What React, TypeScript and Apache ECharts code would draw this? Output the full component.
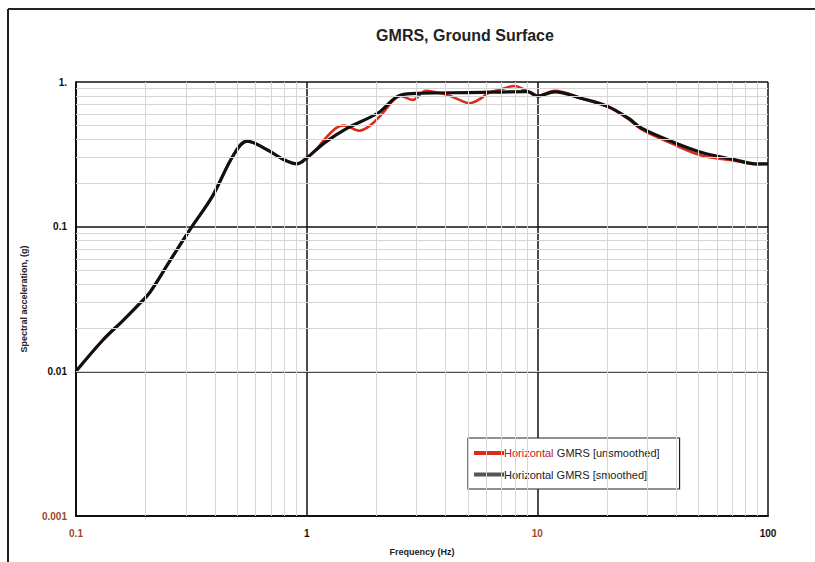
import React, { useEffect, useRef } from "react";
import * as echarts from "echarts";

const smoothFreq = [0.1, 0.1315, 0.1606, 0.19, 0.21, 0.256, 0.318, 0.39, 0.483, 0.552, 0.674, 0.797, 0.91, 1.0, 1.19, 1.5, 2.03, 2.56, 3.13, 5.0, 9.12, 10, 11.9, 15.5, 20.3, 24.8, 28.3, 38.3, 51.6, 72.1, 88.1, 100];
const smoothAcc = [0.01, 0.0166, 0.0226, 0.0297, 0.0355, 0.0585, 0.1, 0.162, 0.315, 0.39, 0.34, 0.29, 0.272, 0.298, 0.378, 0.48, 0.608, 0.813, 0.836, 0.845, 0.857, 0.8, 0.855, 0.772, 0.676, 0.562, 0.48, 0.388, 0.326, 0.29, 0.272, 0.272];

const rawFreq = [0.1, 0.1315, 0.1606, 0.19, 0.21, 0.256, 0.318, 0.39, 0.483, 0.552, 0.674, 0.797, 0.91, 1.0, 1.1, 1.19, 1.34, 1.45, 1.69, 1.9, 2.1, 2.56, 2.88, 3.29, 3.7, 4.09, 4.59, 5.08, 5.71, 6.1, 6.97, 7.96, 9.12, 10, 11.9, 15.5, 20.3, 24.8, 28.3, 38.3, 51.6, 72.1, 88.1, 100];
const rawAcc = [0.01, 0.0166, 0.0226, 0.0297, 0.0355, 0.0585, 0.1, 0.162, 0.315, 0.39, 0.34, 0.29, 0.272, 0.298, 0.34, 0.398, 0.48, 0.5, 0.46, 0.505, 0.59, 0.8, 0.752, 0.871, 0.844, 0.813, 0.752, 0.713, 0.772, 0.836, 0.89, 0.938, 0.857, 0.8, 0.87, 0.77, 0.67, 0.555, 0.47, 0.375, 0.31, 0.285, 0.27, 0.272];

const xMinorGrid = [0.2, 0.3, 0.4, 0.5, 0.6, 0.7, 0.8, 0.9, 2, 3, 4, 5, 6, 7, 8, 9, 20, 30, 40, 50, 60, 70, 80, 90];
const yMinorGrid = [0.002, 0.003, 0.004, 0.005, 0.006, 0.007, 0.008, 0.009, 0.02, 0.03, 0.04, 0.05, 0.06, 0.07, 0.08, 0.09, 0.2, 0.3, 0.4, 0.5, 0.6, 0.7, 0.8, 0.9];

const xTickLabels: Record<string, string> = { "0.1": "{b|0.1}", "1": "{k|1}", "10": "{b|10}", "100": "{k|100}" };
const yTickLabels: Record<string, string> = { "1": "{k|1.}", "0.1": "{k|0.1}", "0.01": "{k|0.01}", "0.001": "{b|0.001}" };

const seriesNames = ["Horizontal GMRS [unsmoothed]", "Horizontal GMRS [smoothed]"];

const FONT = "Liberation Sans, Arial, sans-serif";
const BROWN = "#9a4a2a";

function keyOf(v: number): string {
  const r = Math.round(Math.log10(v));
  return String(Math.pow(10, r) >= 1 ? Math.pow(10, r) : Number(Math.pow(10, r).toFixed(-r)));
}

export default function App() {
  const ref = useRef<HTMLDivElement>(null);
  useEffect(() => {
    const chart = echarts.init(ref.current!, undefined, { renderer: "svg" });
    const rich = {
      k: { color: "#111", fontSize: 10, fontWeight: "bold", fontFamily: FONT },
      b: { color: BROWN, fontSize: 10, fontWeight: "bold", fontFamily: FONT },
    };
    chart.setOption({
      animation: false,
      backgroundColor: "#ffffff",
      grid: { left: 76, right: 47, top: 82, bottom: 46 },
      graphic: [
        { type: "line", shape: { x1: 8, y1: 9, x2: 815, y2: 9 }, style: { stroke: "#222", lineWidth: 2 } },
        { type: "line", shape: { x1: 8, y1: 9, x2: 8, y2: 562 }, style: { stroke: "#222", lineWidth: 2 } },
        {
          type: "text",
          x: 465,
          y: 35,
          style: {
            text: "GMRS, Ground Surface",
            fill: "#222",
            font: "bold 16px " + FONT,
            textAlign: "center",
            textVerticalAlign: "middle",
          },
        },
      ],
      xAxis: {
        type: "log",
        logBase: 10,
        min: 0.1,
        max: 100,
        name: "Frequency (Hz)",
        nameLocation: "middle",
        nameGap: 31,
        nameTextStyle: { color: "#222", fontSize: 9, fontWeight: "bold", fontFamily: FONT },
        axisLine: { show: true, lineStyle: { color: "#111", width: 2 } },
        axisTick: { show: false },
        axisLabel: {
          margin: 12,
          formatter: (v: number) => xTickLabels[keyOf(v)] ?? "",
          rich,
        },
        splitLine: { show: true, lineStyle: { color: "#111", width: 1.5 } },
      },
      yAxis: {
        type: "log",
        logBase: 10,
        min: 0.001,
        max: 1,
        name: "Spectral acceleration, (g)",
        nameLocation: "middle",
        nameGap: 48,
        nameRotate: 90,
        nameTextStyle: { color: "#222", fontSize: 9, fontWeight: "bold", fontFamily: FONT },
        axisLine: { show: true, lineStyle: { color: "#111", width: 2 } },
        axisTick: { show: false },
        axisLabel: {
          margin: 9,
          formatter: (v: number) => yTickLabels[keyOf(v)] ?? "",
          rich,
        },
        splitLine: { show: true, lineStyle: { color: "#111", width: 1.5 } },
      },
      legend: {
        data: seriesNames,
        orient: "vertical",
        left: 468,
        top: 438,
        itemGap: 10,
        padding: [9, 20, 9, 6],
        backgroundColor: "#fff",
        borderColor: "#222",
        borderWidth: 1.2,
        itemWidth: 30,
        itemHeight: 4,
        icon: "rect",
        formatter: (name: string) =>
          name === seriesNames[0] ? "{r|Horizontal} {k|GMRS [unsmoothed]}" : "{k|Horizontal GMRS [smoothed]}",
        textStyle: {
          padding: [0, 0, 0, -5],
          rich: {
            r: { color: "#c02020", fontSize: 11, fontFamily: FONT },
            k: { color: "#222", fontSize: 11, fontFamily: FONT },
          },
        },
      },
      series: [
        {
          name: "grid-minor",
          type: "line",
          z: 1,
          silent: true,
          symbol: "none",
          data: smoothFreq.map((f, i) => [f, smoothAcc[i]]),
          lineStyle: { opacity: 0 },
          markLine: {
            silent: true,
            symbol: "none",
            label: { show: false },
            lineStyle: { color: "#d6d6d6", width: 1, type: "solid" },
            data: [
              ...xMinorGrid.map((v) => ({ xAxis: v })),
              ...yMinorGrid.map((v) => ({ yAxis: v })),
            ],
          },
        },
        {
          name: seriesNames[0],
          type: "line",
          z: 3,
          symbol: "none",
          smooth: 0.35,
          color: "#dd2a1a",
          lineStyle: { color: "#dd2a1a", width: 2.6 },
          data: rawFreq.map((f, i) => [f, rawAcc[i]]),
        },
        {
          name: seriesNames[1],
          type: "line",
          z: 4,
          symbol: "none",
          smooth: 0.35,
          color: "#555",
          lineStyle: { color: "#111", width: 3.2 },
          data: smoothFreq.map((f, i) => [f, smoothAcc[i]]),
        },
      ],
    });
    return () => chart.dispose();
  }, []);
  return <div ref={ref} style={{ width: 815, height: 562, position: "absolute", left: 0, top: 0 }} />;
}
